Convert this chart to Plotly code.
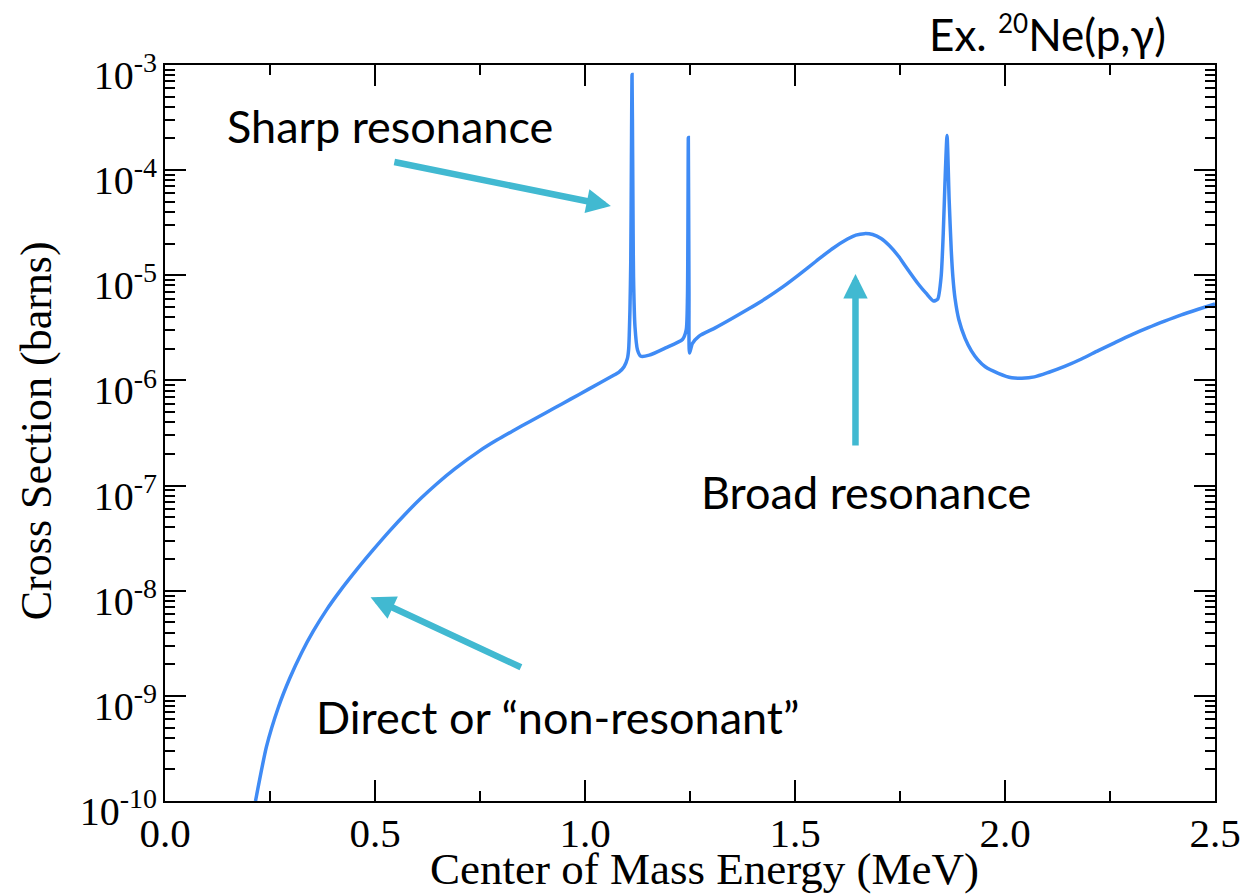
import plotly.graph_objects as go

# Center-of-mass energy (MeV) and cross section (barns) for 20Ne(p,gamma)
energy_mev = [
    0.2155, 0.2416, 0.270, 0.297, 0.325, 0.353, 0.385, 0.416, 0.455, 0.495,
    0.535, 0.574, 0.610, 0.646, 0.690, 0.749, 0.790, 0.828, 0.870, 0.907,
    0.945, 0.986, 1.034, 1.065, 1.081, 1.093, 1.101, 1.104, 1.107, 1.109,
    1.1105, 1.112, 1.1135, 1.1146, 1.1155, 1.119, 1.125, 1.133, 1.153, 1.192,
    1.232, 1.241, 1.244, 1.246, 1.2476, 1.249, 1.2555, 1.271, 1.310, 1.351,
    1.390, 1.430, 1.470, 1.509, 1.550, 1.588, 1.625, 1.645, 1.665, 1.685,
    1.705, 1.725, 1.747, 1.763, 1.794, 1.812, 1.830, 1.840, 1.848, 1.853,
    1.857, 1.862, 1.867, 1.872, 1.876, 1.881, 1.890, 1.905, 1.920, 1.935,
    1.953, 1.984, 2.016, 2.040, 2.070, 2.103, 2.142, 2.182, 2.222, 2.262,
    2.301, 2.341, 2.380, 2.420, 2.460, 2.500,
]
cross_section_barns = [
    1.00e-10, 3.29e-10, 7.80e-10, 1.47e-9, 2.56e-9, 4.12e-9, 6.61e-9, 9.86e-9, 1.56e-8, 2.43e-8,
    3.71e-8, 5.46e-8, 7.60e-8, 1.03e-7, 1.44e-7, 2.14e-7, 2.71e-7, 3.31e-7, 4.09e-7, 4.93e-7,
    5.98e-7, 7.36e-7, 9.40e-7, 1.10e-6, 1.20e-6, 1.35e-6, 1.62e-6, 2.00e-6, 4.68e-6, 1.38e-5,
    1.26e-4, 8.13e-4, 1.26e-4, 2.51e-5, 9.77e-6, 3.24e-6, 1.95e-6, 1.70e-6, 1.74e-6, 2.04e-6,
    2.45e-6, 3.02e-6, 6.31e-6, 2.04e-4, 6.76e-6, 1.82e-6, 2.24e-6, 2.63e-6, 3.16e-6, 3.90e-6,
    4.80e-6, 6.01e-6, 7.71e-6, 1.01e-5, 1.36e-5, 1.78e-5, 2.21e-5, 2.41e-5, 2.49e-5, 2.44e-5,
    2.24e-5, 1.91e-5, 1.51e-5, 1.22e-5, 8.22e-6, 6.76e-6, 5.69e-6, 5.96e-6, 9.77e-6, 2.51e-5,
    7.41e-5, 2.14e-4, 5.25e-5, 1.74e-5, 9.55e-6, 6.03e-6, 3.80e-6, 2.51e-6, 1.91e-6, 1.58e-6,
    1.35e-6, 1.17e-6, 1.06e-6, 1.05e-6, 1.08e-6, 1.19e-6, 1.36e-6, 1.60e-6, 1.92e-6, 2.29e-6,
    2.71e-6, 3.18e-6, 3.67e-6, 4.21e-6, 4.75e-6, 5.33e-6,
]

# Axis ticks
x_tick_vals = [0.0, 0.5, 1.0, 1.5, 2.0, 2.5]
x_tick_text = ["0.0", "0.5", "1.0", "1.5", "2.0", "2.5"]
y_exponents = [-10, -9, -8, -7, -6, -5, -4, -3]

SERIF = "Liberation Serif"
SANS = "Lato"
LINE_BLUE = "#3f8bf5"
ARROW_TEAL = "#41b9d1"

fig = go.Figure()
fig.add_trace(go.Scatter(
    x=energy_mev, y=cross_section_barns, mode="lines",
    line=dict(color=LINE_BLUE, width=3.5, shape="spline", smoothing=0.6),
    showlegend=False, hoverinfo="skip",
))

axis_common = dict(
    showline=True, linecolor="black", linewidth=2, mirror="allticks",
    ticks="inside", ticklen=21, tickwidth=2, tickcolor="black",
    showgrid=False, zeroline=False,
)

fig.update_xaxes(
    range=[0, 2.5], tickvals=x_tick_vals, ticktext=x_tick_text,
    tickfont=dict(family=SERIF, size=41, color="black"),
    ticklabelstandoff=-5,
    minor=dict(ticks="inside", ticklen=10, tickwidth=2, tickcolor="black", dtick=0.25, tick0=0),
    **axis_common,
)
fig.update_yaxes(
    type="log", range=[-10, -3],
    tickvals=[10.0 ** e for e in y_exponents],
    ticktext=[f"10<sup>{e}</sup>" for e in y_exponents],
    tickfont=dict(family=SERIF, size=40, color="black"),
    ticklabelstandoff=-2, ticklabelshift=10,
    minor=dict(ticks="inside", ticklen=10, tickwidth=2, tickcolor="black", dtick="D1"),
    **axis_common,
)

annotations = [
    # axis titles
    dict(text="Center of Mass Energy (MeV)", xref="paper", yref="paper",
         x=(706 - 165) / 1052, y=(801 - 869) / 736, xanchor="center", yanchor="middle",
         showarrow=False, font=dict(family=SERIF, size=45, color="black")),
    dict(text="Cross Section (barns)", xref="paper", yref="paper", textangle=-90,
         x=(36 - 165) / 1052, y=(801 - 431) / 736, xanchor="center", yanchor="middle",
         showarrow=False, font=dict(family=SERIF, size=44, color="black")),
    # reaction label
    dict(text="Ex. <sup><span style='font-size:26px'>20</span></sup>Ne(p,γ)",
         xref="paper", yref="paper", x=(1170 - 165) / 1052, y=(801 - 33) / 736,
         xanchor="right", yanchor="middle", showarrow=False,
         font=dict(family=SANS, size=44, color="black")),
    # callouts
    dict(text="Sharp resonance", xref="x", yref="y", x=0.143, y=-3.58,
         xanchor="left", yanchor="middle", showarrow=False,
         font=dict(family=SANS, size=45, color="black")),
    dict(text="Broad resonance", xref="x", yref="y", x=1.272, y=-7.06,
         xanchor="left", yanchor="middle", showarrow=False,
         font=dict(family=SANS, size=45, color="black")),
    dict(text="Direct or “non-resonant”", xref="x", yref="y", x=0.354, y=-9.20,
         xanchor="left", yanchor="middle", showarrow=False,
         font=dict(family=SANS, size=45, color="black")),
]

# Arrows pointing at the resonances and the direct-capture tail
arrows = [
    ((1.0616, -4.341), (0.5425, -3.920)),
    ((1.644, -4.988), (1.644, -6.633)),
    ((0.4895, -8.063), (0.851, -8.735)),
]
for (tx, ty), (sx, sy) in arrows:
    annotations.append(dict(
        x=tx, y=ty, ax=sx, ay=sy, xref="x", yref="y", axref="x", ayref="y",
        text="", showarrow=True, arrowhead=2, arrowsize=0.75, arrowwidth=6.5,
        arrowcolor=ARROW_TEAL, standoff=0, startstandoff=0,
    ))

fig.update_layout(
    width=1253, height=895,
    margin=dict(l=165, r=36, t=65, b=94),
    paper_bgcolor="white", plot_bgcolor="white",
    annotations=annotations,
)

fig.write_html("out.html")
